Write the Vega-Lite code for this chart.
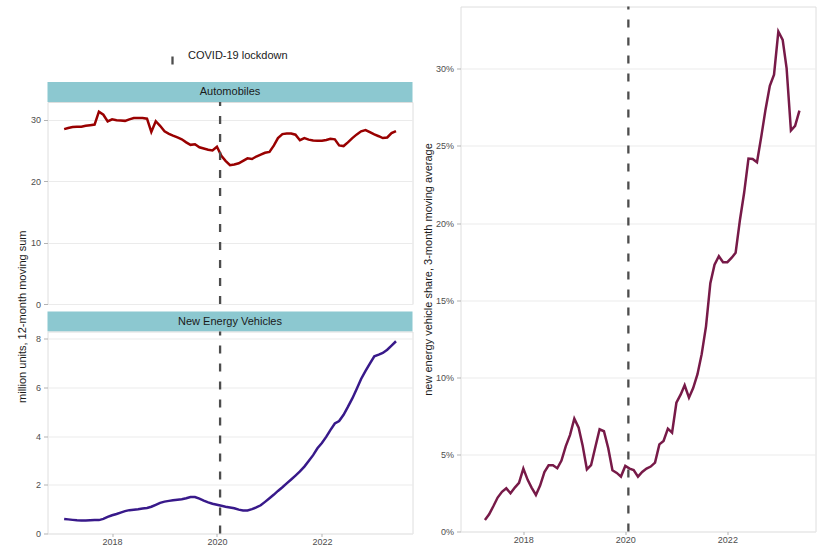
{
  "$schema": "https://vega.github.io/schema/vega-lite/v6.json",
  "padding": {"left": 16.5, "top": 4.5, "right": 0, "bottom": 0},
  "config": {
    "font": "Liberation Sans",
    "view": {"stroke": "#dedede", "strokeWidth": 1},
    "axis": {
      "labelFont": "Liberation Sans",
      "labelFontSize": 9,
      "labelColor": "#4d4d4d",
      "tickColor": "#b3b3b3",
      "tickSize": 4,
      "labelPadding": 3,
      "domain": false,
      "gridColor": "#ebebeb",
      "gridWidth": 1,
      "titleFont": "Liberation Sans",
      "titleFontSize": 11,
      "titleFontWeight": "normal",
      "titleColor": "#1a1a1a"
    },
    "axisX": {"grid": false, "tickSize": 3, "labelPadding": 1}
  },
  "datasets": {
    "auto": [
      {"date": "2017-02-01", "value": 28.45}, {"date": "2017-03-01", "value": 28.65}, {"date": "2017-04-01", "value": 28.8}, {"date": "2017-05-01", "value": 28.85}, {"date": "2017-06-01", "value": 28.85}, {"date": "2017-07-01", "value": 29.0}, {"date": "2017-08-01", "value": 29.1}, {"date": "2017-09-01", "value": 29.2}, {"date": "2017-10-01", "value": 31.3}, {"date": "2017-11-01", "value": 30.8}, {"date": "2017-12-01", "value": 29.7},
      {"date": "2018-01-01", "value": 30.05}, {"date": "2018-02-01", "value": 29.9}, {"date": "2018-03-01", "value": 29.85}, {"date": "2018-04-01", "value": 29.8}, {"date": "2018-05-01", "value": 30.05}, {"date": "2018-06-01", "value": 30.25}, {"date": "2018-07-01", "value": 30.25}, {"date": "2018-08-01", "value": 30.25}, {"date": "2018-09-01", "value": 30.15}, {"date": "2018-10-01", "value": 28.0}, {"date": "2018-11-01", "value": 29.75}, {"date": "2018-12-01", "value": 29.0},
      {"date": "2019-01-01", "value": 28.1}, {"date": "2019-02-01", "value": 27.7}, {"date": "2019-03-01", "value": 27.4}, {"date": "2019-04-01", "value": 27.1}, {"date": "2019-05-01", "value": 26.8}, {"date": "2019-06-01", "value": 26.3}, {"date": "2019-07-01", "value": 25.9}, {"date": "2019-08-01", "value": 26.0}, {"date": "2019-09-01", "value": 25.5}, {"date": "2019-10-01", "value": 25.3}, {"date": "2019-11-01", "value": 25.1}, {"date": "2019-12-01", "value": 25.0},
      {"date": "2020-01-01", "value": 25.6}, {"date": "2020-02-01", "value": 24.1}, {"date": "2020-03-01", "value": 23.3}, {"date": "2020-04-01", "value": 22.6}, {"date": "2020-05-01", "value": 22.7}, {"date": "2020-06-01", "value": 22.9}, {"date": "2020-07-01", "value": 23.3}, {"date": "2020-08-01", "value": 23.7}, {"date": "2020-09-01", "value": 23.6}, {"date": "2020-10-01", "value": 24.0}, {"date": "2020-11-01", "value": 24.3}, {"date": "2020-12-01", "value": 24.6},
      {"date": "2021-01-01", "value": 24.75}, {"date": "2021-02-01", "value": 25.8}, {"date": "2021-03-01", "value": 27.0}, {"date": "2021-04-01", "value": 27.65}, {"date": "2021-05-01", "value": 27.75}, {"date": "2021-06-01", "value": 27.75}, {"date": "2021-07-01", "value": 27.55}, {"date": "2021-08-01", "value": 26.65}, {"date": "2021-09-01", "value": 27.0}, {"date": "2021-10-01", "value": 26.75}, {"date": "2021-11-01", "value": 26.6}, {"date": "2021-12-01", "value": 26.55},
      {"date": "2022-01-01", "value": 26.55}, {"date": "2022-02-01", "value": 26.7}, {"date": "2022-03-01", "value": 26.9}, {"date": "2022-04-01", "value": 26.8}, {"date": "2022-05-01", "value": 25.8}, {"date": "2022-06-01", "value": 25.7}, {"date": "2022-07-01", "value": 26.3}, {"date": "2022-08-01", "value": 27.0}, {"date": "2022-09-01", "value": 27.6}, {"date": "2022-10-01", "value": 28.1}, {"date": "2022-11-01", "value": 28.3}, {"date": "2022-12-01", "value": 27.95},
      {"date": "2023-01-01", "value": 27.6}, {"date": "2023-02-01", "value": 27.3}, {"date": "2023-03-01", "value": 27.0}, {"date": "2023-04-01", "value": 27.1}, {"date": "2023-05-01", "value": 27.8}, {"date": "2023-06-01", "value": 28.15}
    ],
    "nev": [
      {"date": "2017-02-01", "value": 0.60}, {"date": "2017-03-01", "value": 0.58}, {"date": "2017-04-01", "value": 0.56}, {"date": "2017-05-01", "value": 0.54}, {"date": "2017-06-01", "value": 0.53}, {"date": "2017-07-01", "value": 0.53}, {"date": "2017-08-01", "value": 0.54}, {"date": "2017-09-01", "value": 0.55}, {"date": "2017-10-01", "value": 0.55}, {"date": "2017-11-01", "value": 0.60}, {"date": "2017-12-01", "value": 0.68},
      {"date": "2018-01-01", "value": 0.75}, {"date": "2018-02-01", "value": 0.80}, {"date": "2018-03-01", "value": 0.86}, {"date": "2018-04-01", "value": 0.92}, {"date": "2018-05-01", "value": 0.96}, {"date": "2018-06-01", "value": 0.98}, {"date": "2018-07-01", "value": 1.00}, {"date": "2018-08-01", "value": 1.03}, {"date": "2018-09-01", "value": 1.05}, {"date": "2018-10-01", "value": 1.10}, {"date": "2018-11-01", "value": 1.18}, {"date": "2018-12-01", "value": 1.26},
      {"date": "2019-01-01", "value": 1.31}, {"date": "2019-02-01", "value": 1.34}, {"date": "2019-03-01", "value": 1.37}, {"date": "2019-04-01", "value": 1.39}, {"date": "2019-05-01", "value": 1.41}, {"date": "2019-06-01", "value": 1.45}, {"date": "2019-07-01", "value": 1.50}, {"date": "2019-08-01", "value": 1.50}, {"date": "2019-09-01", "value": 1.43}, {"date": "2019-10-01", "value": 1.35}, {"date": "2019-11-01", "value": 1.28}, {"date": "2019-12-01", "value": 1.22},
      {"date": "2020-01-01", "value": 1.18}, {"date": "2020-02-01", "value": 1.14}, {"date": "2020-03-01", "value": 1.10}, {"date": "2020-04-01", "value": 1.07}, {"date": "2020-05-01", "value": 1.04}, {"date": "2020-06-01", "value": 0.98}, {"date": "2020-07-01", "value": 0.95}, {"date": "2020-08-01", "value": 0.95}, {"date": "2020-09-01", "value": 1.00}, {"date": "2020-10-01", "value": 1.07}, {"date": "2020-11-01", "value": 1.16}, {"date": "2020-12-01", "value": 1.30},
      {"date": "2021-01-01", "value": 1.45}, {"date": "2021-02-01", "value": 1.60}, {"date": "2021-03-01", "value": 1.75}, {"date": "2021-04-01", "value": 1.90}, {"date": "2021-05-01", "value": 2.06}, {"date": "2021-06-01", "value": 2.22}, {"date": "2021-07-01", "value": 2.38}, {"date": "2021-08-01", "value": 2.55}, {"date": "2021-09-01", "value": 2.75}, {"date": "2021-10-01", "value": 2.98}, {"date": "2021-11-01", "value": 3.22}, {"date": "2021-12-01", "value": 3.50},
      {"date": "2022-01-01", "value": 3.72}, {"date": "2022-02-01", "value": 3.98}, {"date": "2022-03-01", "value": 4.25}, {"date": "2022-04-01", "value": 4.52}, {"date": "2022-05-01", "value": 4.62}, {"date": "2022-06-01", "value": 4.88}, {"date": "2022-07-01", "value": 5.20}, {"date": "2022-08-01", "value": 5.55}, {"date": "2022-09-01", "value": 5.95}, {"date": "2022-10-01", "value": 6.35}, {"date": "2022-11-01", "value": 6.68}, {"date": "2022-12-01", "value": 6.98},
      {"date": "2023-01-01", "value": 7.28}, {"date": "2023-02-01", "value": 7.35}, {"date": "2023-03-01", "value": 7.42}, {"date": "2023-04-01", "value": 7.55}, {"date": "2023-05-01", "value": 7.72}, {"date": "2023-06-01", "value": 7.90}
    ],
    "share": [
      {"date": "2017-04-01", "share": 0.75}, {"date": "2017-05-01", "share": 1.12}, {"date": "2017-06-01", "share": 1.65}, {"date": "2017-07-01", "share": 2.2}, {"date": "2017-08-01", "share": 2.57}, {"date": "2017-09-01", "share": 2.8}, {"date": "2017-10-01", "share": 2.48}, {"date": "2017-11-01", "share": 2.85}, {"date": "2017-12-01", "share": 3.15},
      {"date": "2018-01-01", "share": 4.08}, {"date": "2018-02-01", "share": 3.35}, {"date": "2018-03-01", "share": 2.85}, {"date": "2018-04-01", "share": 2.37}, {"date": "2018-05-01", "share": 2.98}, {"date": "2018-06-01", "share": 3.85}, {"date": "2018-07-01", "share": 4.29}, {"date": "2018-08-01", "share": 4.29}, {"date": "2018-09-01", "share": 4.1}, {"date": "2018-10-01", "share": 4.6}, {"date": "2018-11-01", "share": 5.54}, {"date": "2018-12-01", "share": 6.25},
      {"date": "2019-01-01", "share": 7.32}, {"date": "2019-02-01", "share": 6.73}, {"date": "2019-03-01", "share": 5.6}, {"date": "2019-04-01", "share": 4.03}, {"date": "2019-05-01", "share": 4.3}, {"date": "2019-06-01", "share": 5.5}, {"date": "2019-07-01", "share": 6.63}, {"date": "2019-08-01", "share": 6.5}, {"date": "2019-09-01", "share": 5.4}, {"date": "2019-10-01", "share": 3.97}, {"date": "2019-11-01", "share": 3.8}, {"date": "2019-12-01", "share": 3.56},
      {"date": "2020-01-01", "share": 4.25}, {"date": "2020-02-01", "share": 4.08}, {"date": "2020-03-01", "share": 3.99}, {"date": "2020-04-01", "share": 3.56}, {"date": "2020-05-01", "share": 3.86}, {"date": "2020-06-01", "share": 4.08}, {"date": "2020-07-01", "share": 4.21}, {"date": "2020-08-01", "share": 4.47}, {"date": "2020-09-01", "share": 5.65}, {"date": "2020-10-01", "share": 5.87}, {"date": "2020-11-01", "share": 6.67}, {"date": "2020-12-01", "share": 6.41},
      {"date": "2021-01-01", "share": 8.35}, {"date": "2021-02-01", "share": 8.89}, {"date": "2021-03-01", "share": 9.48}, {"date": "2021-04-01", "share": 8.68}, {"date": "2021-05-01", "share": 9.3}, {"date": "2021-06-01", "share": 10.2}, {"date": "2021-07-01", "share": 11.5}, {"date": "2021-08-01", "share": 13.3}, {"date": "2021-09-01", "share": 16.1}, {"date": "2021-10-01", "share": 17.3}, {"date": "2021-11-01", "share": 17.85}, {"date": "2021-12-01", "share": 17.46},
      {"date": "2022-01-01", "share": 17.46}, {"date": "2022-02-01", "share": 17.75}, {"date": "2022-03-01", "share": 18.07}, {"date": "2022-04-01", "share": 20.2}, {"date": "2022-05-01", "share": 21.96}, {"date": "2022-06-01", "share": 24.18}, {"date": "2022-07-01", "share": 24.15}, {"date": "2022-08-01", "share": 23.94}, {"date": "2022-09-01", "share": 25.62}, {"date": "2022-10-01", "share": 27.35}, {"date": "2022-11-01", "share": 28.9}, {"date": "2022-12-01", "share": 29.62},
      {"date": "2023-01-01", "share": 32.42}, {"date": "2023-02-01", "share": 31.88}, {"date": "2023-03-01", "share": 30.05}, {"date": "2023-04-01", "share": 26.0}, {"date": "2023-05-01", "share": 26.3}, {"date": "2023-06-01", "share": 27.29}
    ],
    "covid": [{"date": "2020-01-23", "event": "COVID-19 lockdown"}],
    "strip1": [{"panel": "Automobiles"}],
    "strip2": [{"panel": "New Energy Vehicles"}]
  },
  "resolve": {"legend": {"strokeDash": "independent"}, "scale": {"strokeDash": "independent"}},
  "spacing": 8,
  "hconcat": [
    {
      "title": {"text": "million units, 12-month moving sum", "orient": "left", "anchor": "middle", "frame": "bounds",
                "fontSize": 11, "fontWeight": "normal", "color": "#1a1a1a", "font": "Liberation Sans", "offset": 2, "dx": -40},
      "spacing": 1.5,
      "vconcat": [
        {
          "width": 365, "height": 73.5,
          "data": {"name": "strip1"},
          "view": {"stroke": null},
          "mark": {"type": "text", "text": ""},
          "encoding": {}
        },
        {
          "bounds": "flush",
          "spacing": 0,
          "vconcat": [
            {
              "width": 365, "height": 20,
              "data": {"name": "strip1"},
              "view": {"stroke": null},
              "layer": [
                {"mark": {"type": "rect", "color": "#8cc8d0"}, "encoding": {}},
                {"mark": {"type": "text", "fontSize": 11, "color": "#1a1a1a", "font": "Liberation Sans"}, "encoding": {"text": {"field": "panel"}}}
              ]
            },
            {
              "width": 365, "height": 202,
              "layer": [
                {
                  "data": {"name": "auto"},
                  "mark": {"type": "line", "color": "#990000", "strokeWidth": 2.5},
                  "encoding": {
                    "x": {"field": "date", "type": "temporal", "axis": null,
                          "scale": {"type": "utc", "domain": [{"year": 2016, "month": 10, "date": 8, "utc": true}, {"year": 2023, "month": 9, "date": 24, "utc": true}]}},
                    "y": {"field": "value", "type": "quantitative", "title": null,
                          "scale": {"domain": [0, 32.87], "nice": false},
                          "axis": {"values": [0, 10, 20, 30]}}
                  }
                },
                {
                  "data": {"name": "covid"},
                  "mark": {"type": "rule", "color": "#4d4d4d", "strokeWidth": 2.3, "strokeDashOffset": 4},
                  "encoding": {
                    "x": {"field": "date", "type": "temporal"},
                    "strokeDash": {"field": "event", "type": "nominal",
                      "scale": {"domain": ["COVID-19 lockdown"], "range": [[8, 10]]},
                      "legend": {
                        "title": null, "orient": "none", "legendX": 115, "legendY": 39.5, "padding": 0,
                        "symbolType": "M0,1L0,-1", "symbolSize": 289, "symbolStrokeWidth": 2.3,
                        "symbolStrokeColor": "#4d4d4d", "symbolFillColor": "transparent",
                        "labelFontSize": 11, "labelColor": "#1a1a1a", "labelFont": "Liberation Sans", "labelOffset": 5.5
                      }}
                  }
                }
              ]
            }
          ]
        },
        {
          "bounds": "flush",
          "spacing": 0,
          "vconcat": [
            {
              "width": 365, "height": 20,
              "data": {"name": "strip2"},
              "view": {"stroke": null},
              "layer": [
                {"mark": {"type": "rect", "color": "#8cc8d0"}, "encoding": {}},
                {"mark": {"type": "text", "fontSize": 11, "color": "#1a1a1a", "font": "Liberation Sans"}, "encoding": {"text": {"field": "panel"}}}
              ]
            },
            {
              "width": 365, "height": 202,
              "layer": [
                {
                  "data": {"name": "nev"},
                  "mark": {"type": "line", "color": "#38198a", "strokeWidth": 2.5},
                  "encoding": {
                    "x": {"field": "date", "type": "temporal", "title": null,
                          "scale": {"type": "utc", "domain": [{"year": 2016, "month": 10, "date": 8, "utc": true}, {"year": 2023, "month": 9, "date": 24, "utc": true}]},
                          "axis": {"values": [{"year": 2018, "utc": true}, {"year": 2020, "utc": true}, {"year": 2022, "utc": true}], "format": "%Y"}},
                    "y": {"field": "value", "type": "quantitative", "title": null,
                          "scale": {"domain": [0, 8.3], "nice": false},
                          "axis": {"values": [0, 2, 4, 6, 8]}}
                  }
                },
                {
                  "data": {"name": "covid"},
                  "mark": {"type": "rule", "color": "#4d4d4d", "strokeWidth": 2.3, "strokeDash": [8, 10], "strokeDashOffset": 4},
                  "encoding": {"x": {"field": "date", "type": "temporal"}}
                }
              ]
            }
          ]
        }
      ]
    },
    {
      "width": 355, "height": 525,
      "layer": [
        {
          "data": {"name": "share"},
          "mark": {"type": "line", "color": "#771a48", "strokeWidth": 2.5},
          "encoding": {
            "x": {"field": "date", "type": "temporal", "title": null,
                  "scale": {"type": "utc", "domain": [{"year": 2016, "month": 10, "date": 8, "utc": true}, {"year": 2023, "month": 9, "date": 24, "utc": true}]},
                  "axis": {"values": [{"year": 2018, "utc": true}, {"year": 2020, "utc": true}, {"year": 2022, "utc": true}], "format": "%Y"}},
            "y": {"field": "share", "type": "quantitative",
                  "title": "new energy vehicle share, 3-month moving average",
                  "scale": {"domain": [0, 34.04], "nice": false},
                  "axis": {"values": [0, 5, 10, 15, 20, 25, 30], "labelExpr": "datum.value + '%'", "titlePadding": 2}}
          }
        },
        {
          "data": {"name": "covid"},
          "mark": {"type": "rule", "color": "#4d4d4d", "strokeWidth": 2.3, "strokeDash": [8, 10], "strokeDashOffset": 5},
          "encoding": {"x": {"field": "date", "type": "temporal"}}
        }
      ]
    }
  ]
}
